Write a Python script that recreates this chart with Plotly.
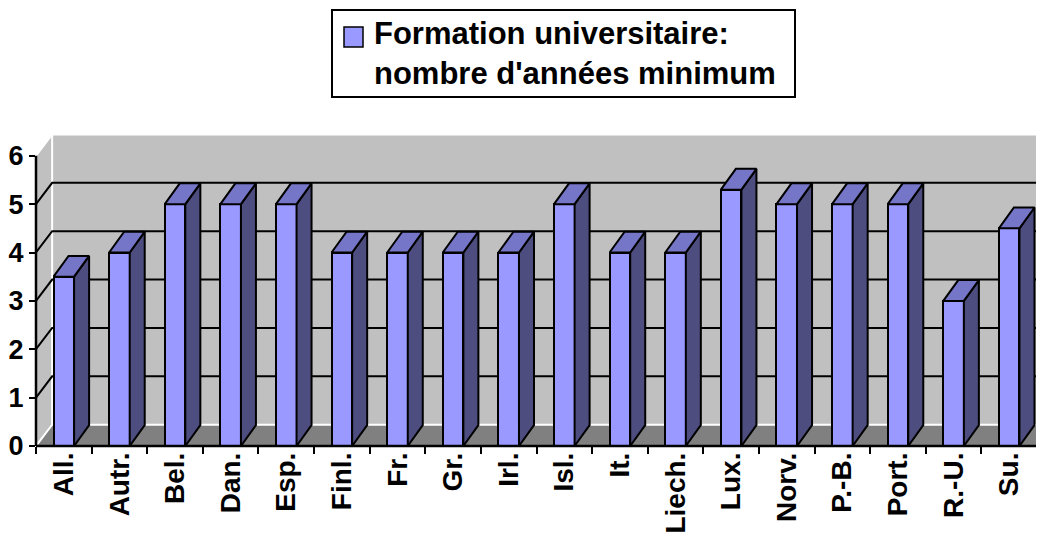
import plotly.graph_objects as go

categories = ["All.", "Autr.", "Bel.", "Dan.", "Esp.", "Finl.", "Fr.", "Gr.", "Irl.",
              "Isl.", "It.", "Liech.", "Lux.", "Norv.", "P.-B.", "Port.", "R.-U.", "Su."]
values = [3.5, 4, 5, 5, 5, 4, 4, 4, 4, 5, 4, 4, 5.3, 5, 5, 5, 3, 4.5]
y_ticks = [0, 1, 2, 3, 4, 5, 6]
series_name = "Formation universitaire:<br>nombre d'années minimum"

FRONT = "#9999FF"
TOP = "#7676C8"
SIDE = "#4D4D80"
WALL = "#C0C0C0"
FLOOR = "#808080"
FONT = "Liberation Sans, Arial, sans-serif"

BAR_W = 0.37
BDX, BDY = 0.27, 0.43      # bar depth offset (data units)
WDX, WDY = 0.29, 0.44      # wall depth offset

n = len(categories)
xs = list(range(n))
x_lo, x_hi = -0.5, n - 0.5
x_max = x_hi + 0.126
ymax = max(y_ticks)
y_top = 6.45

# the page puts the figure 8px in from the top-left corner
PAGE_OFF = 8

fig = go.Figure()

shapes = []
shapes.append(dict(type="path", xref="x", yref="y", layer="below",
                   path=f"M{x_lo+WDX},{WDY} L{x_lo+WDX},{ymax+WDY} L{x_hi+WDX+1},{ymax+WDY} L{x_hi+WDX+1},{WDY} Z",
                   fillcolor=WALL, line=dict(width=0)))
shapes.append(dict(type="path", xref="x", yref="y", layer="below",
                   path=f"M{x_lo},0 L{x_lo},{ymax} L{x_lo+WDX},{ymax+WDY} L{x_lo+WDX},{WDY} Z",
                   fillcolor=WALL, line=dict(width=0)))
shapes.append(dict(type="path", xref="x", yref="y", layer="below",
                   path=f"M{x_lo},0 L{x_hi},0 L{x_hi+WDX},{WDY} L{x_lo+WDX},{WDY} Z",
                   fillcolor=FLOOR, line=dict(width=0)))
shapes.append(dict(type="path", xref="x", yref="y", layer="below",
                   path=f"M{x_lo},0 L{x_lo+WDX},{WDY} L{x_hi+WDX+1},{WDY}",
                   line=dict(color="white", width=2)))
shapes.append(dict(type="path", xref="x", yref="y", layer="below",
                   path=f"M{x_lo},{ymax} L{x_lo+WDX},{ymax+WDY} L{x_hi+WDX+1},{ymax+WDY} M{x_lo+WDX},{ymax+WDY} L{x_lo+WDX},{WDY}",
                   line=dict(color="white", width=2)))
for v in y_ticks[1:-1]:
    shapes.append(dict(type="path", xref="x", yref="y", layer="below",
                       path=f"M{x_lo},{v} L{x_lo+WDX},{v+WDY} L{x_hi+WDX+1},{v+WDY}",
                       line=dict(color="black", width=2)))
shapes.append(dict(type="line", xref="paper", yref="y", x0=0, x1=0, y0=0, y1=ymax,
                   line=dict(color="black", width=2.5), layer="above"))
shapes.append(dict(type="line", xref="x", yref="paper", x0=x_lo, x1=x_hi, y0=0, y1=0,
                   line=dict(color="black", width=2.5), layer="above"))
shapes.append(dict(type="line", xref="x", yref="y", x0=x_hi, x1=x_hi + WDX, y0=0, y1=WDY,
                   line=dict(color="black", width=2), layer="above"))

fig.add_trace(go.Bar(x=xs, y=values, width=BAR_W, name=series_name,
                     marker=dict(color=FRONT, line=dict(color="black", width=2)),
                     showlegend=False, hoverinfo="skip"))

side_x, side_y, top_x, top_y = [], [], [], []
for i, v in zip(xs, values):
    xl = i - BAR_W / 2
    xr = i + BAR_W / 2
    side_x += [xr, xr + BDX, xr + BDX, xr, xr, None]
    side_y += [0, BDY, v + BDY, v, 0, None]
    top_x += [xl, xr, xr + BDX, xl + BDX, xl, None]
    top_y += [v, v, v + BDY, v + BDY, v, None]

fig.add_trace(go.Scatter(x=side_x, y=side_y, mode="lines", fill="toself", fillcolor=SIDE,
                         line=dict(color="black", width=2), showlegend=False, hoverinfo="skip"))
fig.add_trace(go.Scatter(x=top_x, y=top_y, mode="lines", fill="toself", fillcolor=TOP,
                         line=dict(color="black", width=2), showlegend=False, hoverinfo="skip"))

fig.add_trace(go.Scatter(x=[None], y=[None], xaxis="x2", showlegend=False, hoverinfo="skip"))

# page-pixel -> paper helpers (plot area spans page x 36..1044, y 134..446)
def px_x(p):
    return (p - 36) / 1008

def px_y(p):
    return (446 - p) / 312

shapes.append(dict(type="rect", xref="paper", yref="paper",
                   x0=px_x(332), x1=px_x(795), y0=px_y(97), y1=px_y(10),
                   line=dict(color="black", width=2), fillcolor="white"))
shapes.append(dict(type="rect", xref="paper", yref="paper",
                   x0=px_x(344), x1=px_x(363), y0=px_y(47), y1=px_y(27),
                   line=dict(color="black", width=1.5), fillcolor=FRONT))

fig.add_annotation(xref="paper", yref="paper", x=px_x(372), y=px_y(53),
                   xanchor="left", yanchor="middle", align="left", showarrow=False,
                   text=series_name,
                   font=dict(family=FONT, size=31, color="black", weight="bold"))

fig.update_layout(
    width=1044 - PAGE_OFF, height=533 - PAGE_OFF,
    margin=dict(l=36 - PAGE_OFF, r=0, t=134 - PAGE_OFF, b=87, autoexpand=False),
    paper_bgcolor="white", plot_bgcolor="white",
    shapes=shapes,
    bargap=0,
    xaxis=dict(range=[x_lo, x_max], tickmode="array", tickvals=xs, ticktext=categories,
               tickangle=-90, ticks="", showgrid=False, zeroline=False, showline=False,
               automargin=False,
               tickfont=dict(family=FONT, size=28, color="black", weight="bold")),
    xaxis2=dict(range=[x_lo, x_max], overlaying="x", anchor="y", side="bottom",
                tickmode="array", tickvals=[x_lo + k for k in range(n + 1)],
                ticks="outside", ticklen=7, tickwidth=2, tickcolor="black",
                showticklabels=False, showgrid=False, zeroline=False, showline=False,
                automargin=False),
    yaxis=dict(range=[0, y_top], tickmode="array", tickvals=y_ticks,
               ticks="outside", ticklen=6, tickwidth=2, tickcolor="black",
               showgrid=False, zeroline=False, showline=False, automargin=False,
               tickfont=dict(family=FONT, size=27, color="black", weight="bold")),
)

fig.write_html("out.html")
